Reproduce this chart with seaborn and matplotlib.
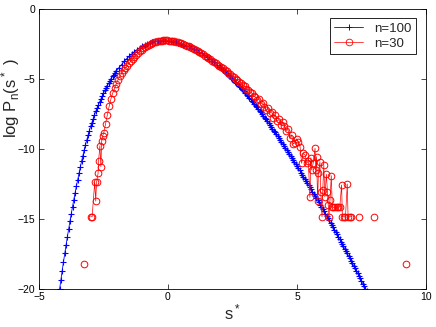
import numpy as np
import pandas as pd
import matplotlib
matplotlib.use("Agg")
import matplotlib.pyplot as plt
from matplotlib.lines import Line2D
import seaborn as sns

# n=100 curve
blue_x = [-4.25, -4.20, -4.15, -4.10, -4.05, -4.00, -3.95, -3.90, -3.85, -3.80,
          -3.75, -3.70, -3.65, -3.60, -3.55, -3.50, -3.45, -3.40, -3.35, -3.30,
          -3.25, -3.20, -3.15, -3.10, -3.05, -3.00, -2.95, -2.90, -2.85, -2.80,
          -2.75, -2.70, -2.65, -2.60, -2.55, -2.50, -2.45, -2.40, -2.35, -2.30,
          -2.25, -2.20, -2.15, -2.10, -2.05, -2.00,
          -1.9, -1.8, -1.7, -1.6, -1.5, -1.4, -1.3, -1.2, -1.1, -1.0,
          -0.9, -0.8, -0.7, -0.6, -0.5, -0.4, -0.3, -0.2, -0.1, 0.0,
          0.1, 0.2, 0.3, 0.4, 0.5, 0.6, 0.7, 0.8, 0.9, 1.0,
          1.1, 1.2, 1.3, 1.4, 1.5, 1.6, 1.7, 1.8, 1.9,
          2.00, 2.05, 2.10, 2.15, 2.20, 2.25, 2.30, 2.35, 2.40, 2.45,
          2.50, 2.55, 2.60, 2.65, 2.70, 2.75, 2.80, 2.85, 2.90, 2.95,
          3.00, 3.05, 3.10, 3.15, 3.20, 3.25, 3.30, 3.35, 3.40, 3.45,
          3.50, 3.55, 3.60, 3.65, 3.70, 3.75, 3.80, 3.85, 3.90, 3.95,
          4.00, 4.05, 4.10, 4.15, 4.20, 4.25, 4.30, 4.35, 4.40, 4.45,
          4.50, 4.55, 4.60, 4.65, 4.70, 4.75, 4.80, 4.85, 4.90, 4.95,
          5.00, 5.05, 5.10, 5.15, 5.20, 5.25, 5.30, 5.35, 5.40, 5.45,
          5.50, 5.55, 5.60, 5.65, 5.70, 5.75, 5.80, 5.85, 5.90, 5.95,
          6.00, 6.05, 6.10, 6.15, 6.20, 6.25, 6.30, 6.35, 6.40, 6.45,
          6.50, 6.55, 6.60, 6.65, 6.70, 6.75, 6.80, 6.85, 6.90, 6.95,
          7.00, 7.05, 7.10, 7.15, 7.20, 7.25, 7.30, 7.35, 7.40, 7.45,
          7.50, 7.55, 7.60, 7.65, 7.70]
blue_y = [-20.68, -20.01, -19.35, -18.70, -18.08, -17.47, -16.87, -16.29, -15.73, -15.18,
          -14.65, -14.13, -13.63, -13.14, -12.67, -12.21, -11.76, -11.33, -10.91, -10.50,
          -10.11, -9.75, -9.39, -9.05, -8.72, -8.41, -8.13, -7.86, -7.59, -7.34,
          -7.09, -6.87, -6.65, -6.43, -6.23, -6.03, -5.84, -5.66, -5.49, -5.32,
          -5.16, -5.00, -4.84, -4.71, -4.58, -4.45,
          -4.21, -3.99, -3.77, -3.57, -3.39, -3.22, -3.06, -2.92, -2.79, -2.68,
          -2.58, -2.49, -2.42, -2.37, -2.32, -2.30, -2.28, -2.28, -2.29, -2.30,
          -2.33, -2.36, -2.40, -2.45, -2.50, -2.56, -2.63, -2.70, -2.79, -2.88,
          -2.97, -3.08, -3.19, -3.31, -3.43, -3.56, -3.70, -3.84, -3.99,
          -4.15, -4.23, -4.31, -4.39, -4.48, -4.56, -4.65, -4.74, -4.83, -4.92,
          -5.01, -5.11, -5.21, -5.30, -5.40, -5.50, -5.60, -5.70, -5.81, -5.91,
          -6.02, -6.13, -6.24, -6.35, -6.47, -6.58, -6.69, -6.81, -6.93, -7.05,
          -7.17, -7.29, -7.41, -7.53, -7.66, -7.78, -7.91, -8.04, -8.17, -8.30,
          -8.43, -8.56, -8.70, -8.83, -8.97, -9.10, -9.24, -9.38, -9.52, -9.66,
          -9.80, -9.94, -10.09, -10.23, -10.38, -10.53, -10.68, -10.83, -10.98, -11.11,
          -11.25, -11.40, -11.55, -11.70, -11.85, -12.00, -12.15, -12.30, -12.45, -12.60,
          -12.75, -12.90, -13.06, -13.21, -13.37, -13.52, -13.68, -13.83, -13.99, -14.14,
          -14.30, -14.46, -14.63, -14.79, -14.96, -15.12, -15.29, -15.45, -15.62, -15.78,
          -15.95, -16.12, -16.29, -16.46, -16.63, -16.80, -16.97, -17.14, -17.31, -17.48,
          -17.65, -17.83, -18.01, -18.19, -18.37, -18.55, -18.73, -18.91, -19.09, -19.27,
          -19.45, -19.63, -19.81, -19.99, -20.17]

# n=30 curve, NaN = empty bin (line broken there)
red_x = [-3.24, np.nan, -3.00, -2.94, -2.84, -2.80, -2.77, -2.71, -2.69, -2.64,
         -2.60, -2.57, -2.53,
         -2.49, -2.42, -2.35, -2.28, -2.21, -2.14, -2.07, -2.00, -1.93, -1.86,
         -1.79, -1.72, -1.65, -1.58, -1.51, -1.44, -1.37, -1.30, -1.23, -1.16,
         -1.09, -1.02, -0.95, -0.88, -0.81, -0.74, -0.67, -0.60, -0.53, -0.46,
         -0.39, -0.32, -0.25, -0.18, -0.11, -0.04, 0.03, 0.10, 0.17, 0.24,
         0.31, 0.38, 0.45, 0.52, 0.59, 0.66, 0.73, 0.80, 0.87, 0.94,
         1.01, 1.08, 1.15, 1.22, 1.29, 1.36, 1.43, 1.50, 1.57, 1.64,
         1.71, 1.78, 1.85, 1.92, 1.99, 2.06, 2.13, 2.20, 2.27, 2.34,
         2.41, 2.48, 2.55, 2.62, 2.69, 2.76, 2.83, 2.90, 2.97, 3.04,
         3.11, 3.18, 3.25, 3.32, 3.39, 3.46, 3.53, 3.60, 3.67, 3.74,
         3.81, 3.88, 3.95, 4.02, 4.09, 4.16, 4.23, 4.30, 4.37, 4.44,
         4.51, 4.58, 4.65, 4.72, 4.79, 4.86, 4.92, 4.99, 5.05, 5.12,
         5.18, 5.24, 5.32, 5.38, 5.44, 5.50, 5.54, 5.57, 5.63, 5.70,
         5.73, 5.76, 5.80, 5.83, 5.89, 5.92, 5.97, 6.00, 6.04, 6.08,
         6.14, 6.18, 6.21, 6.24, 6.28, 6.33, 6.37, 6.41, 6.47, 6.54,
         6.60, 6.66, 6.73, 6.76, 6.82, 6.88, 6.95, 6.98, 7.04, 7.10,
         np.nan, 7.40, np.nan, 7.97, np.nan, 9.21]
red_y = [-18.26, np.nan, -14.86, -14.86, -12.40, -13.74, -12.40, -11.76, -10.88, -9.79,
         -11.28, -9.43, -9.07,
         -8.88, -8.22, -7.58, -6.98, -6.44, -6.02, -5.68, -5.35, -5.06, -4.82,
         -4.60, -4.37, -4.24, -4.07, -3.90, -3.75, -3.60, -3.45, -3.31, -3.18,
         -3.05, -2.94, -2.84, -2.74, -2.65, -2.57, -2.50, -2.44, -2.39, -2.35,
         -2.32, -2.29, -2.28, -2.27, -2.27, -2.27, -2.28, -2.30, -2.32, -2.34,
         -2.37, -2.40, -2.44, -2.48, -2.53, -2.58, -2.63, -2.69, -2.75, -2.82,
         -2.88, -2.95, -3.03, -3.10, -3.18, -3.26, -3.35, -3.43, -3.52, -3.61,
         -3.70, -3.80, -3.89, -3.99, -4.08, -4.18, -4.27, -4.36, -4.47, -4.58,
         -4.66, -4.80, -4.88, -5.02, -5.10, -5.22, -5.30, -5.47, -5.55, -5.70,
         -5.78, -5.98, -6.02, -6.25, -6.30, -6.52, -6.45, -6.80, -6.72, -7.05,
         -7.20, -7.12, -7.45, -7.35, -7.80, -7.62, -8.05, -7.90, -8.30, -8.10,
         -8.40, -8.70, -8.62, -9.26, -9.02, -9.66, -9.57, -9.30, -9.50, -9.86,
         -11.04, -10.33, -10.45, -11.04, -10.85, -13.47, -10.64, -11.52, -11.00, -9.97,
         -11.52, -10.57, -13.74, -11.76, -10.93, -13.07, -14.86, -12.95, -11.16, -13.43,
         -11.83, -13.07, -14.02, -14.86, -13.66, -11.93, -14.14, -14.19, -14.19, -14.19,
         -14.19, -14.14, -12.59, -14.86, -14.86, -14.86, -12.52, -14.86, -14.86, -14.86,
         np.nan, -14.86, np.nan, -14.86, np.nan, -18.26]

labels = ["n=100", "n=30"]
BLUE = "#0000ff"
RED = "#ff0000"

sns.set_theme(style="ticks")
plt.rcParams["font.family"] = ["Liberation Sans", "DejaVu Sans"]
plt.rcParams["mathtext.default"] = "regular"

# split the n=30 series into runs between empty bins
red = pd.DataFrame({"x": red_x, "y": red_y})
red["seg"] = red["x"].isna().cumsum()
red = red.dropna()

fig = plt.figure(figsize=(4.36, 3.27), dpi=100)
ax = fig.add_axes([0.0894, 0.1171, 0.8876, 0.8563])

sns.lineplot(x=blue_x, y=blue_y, ax=ax, color=BLUE, marker="+", ms=4.5,
             mew=0.8, mec=BLUE, lw=0.6, sort=False, estimator=None)
sns.lineplot(data=red, x="x", y="y", units="seg", estimator=None, sort=False,
             ax=ax, color=RED, marker="o", ms=4.8, mfc="none", mec=RED,
             mew=0.7, lw=0.5)

ax.set_xlim(-5, 10)
ax.set_ylim(-20, 0)
ax.set_xticks([-5, 0, 5, 10])
ax.set_yticks([-20, -15, -10, -5, 0])
ax.tick_params(direction="in", top=True, right=True, length=3.5, width=0.5,
               labelsize=7.5, pad=2.5, colors="black")
for sp in ax.spines.values():
    sp.set_visible(True)
    sp.set_linewidth(0.6)
    sp.set_color("black")

ax.set_xlabel("s$^*$", fontsize=12)
ax.set_ylabel("log P$_n$(s$^*$ )", fontsize=12)
ax.xaxis.set_label_coords(0.5, -0.05)
ax.yaxis.set_label_coords(-0.045, 0.68)

handles = [Line2D([], [], color=BLUE, marker="+", ms=5, mew=0.7, lw=0.6),
           Line2D([], [], color=RED, marker="o", ms=4.8, mfc="none", mew=0.6, lw=0.5)]
leg = ax.legend(handles, labels, loc="upper right", bbox_to_anchor=(0.974, 0.967),
                borderaxespad=0, fancybox=False, framealpha=1, edgecolor="black",
                fontsize=9.5, numpoints=1, handlelength=2.2, handletextpad=0.8,
                labelspacing=0.2, borderpad=0.35)
leg.get_frame().set_linewidth(0.6)

plt.savefig("out.png", dpi=100)
plt.close()
